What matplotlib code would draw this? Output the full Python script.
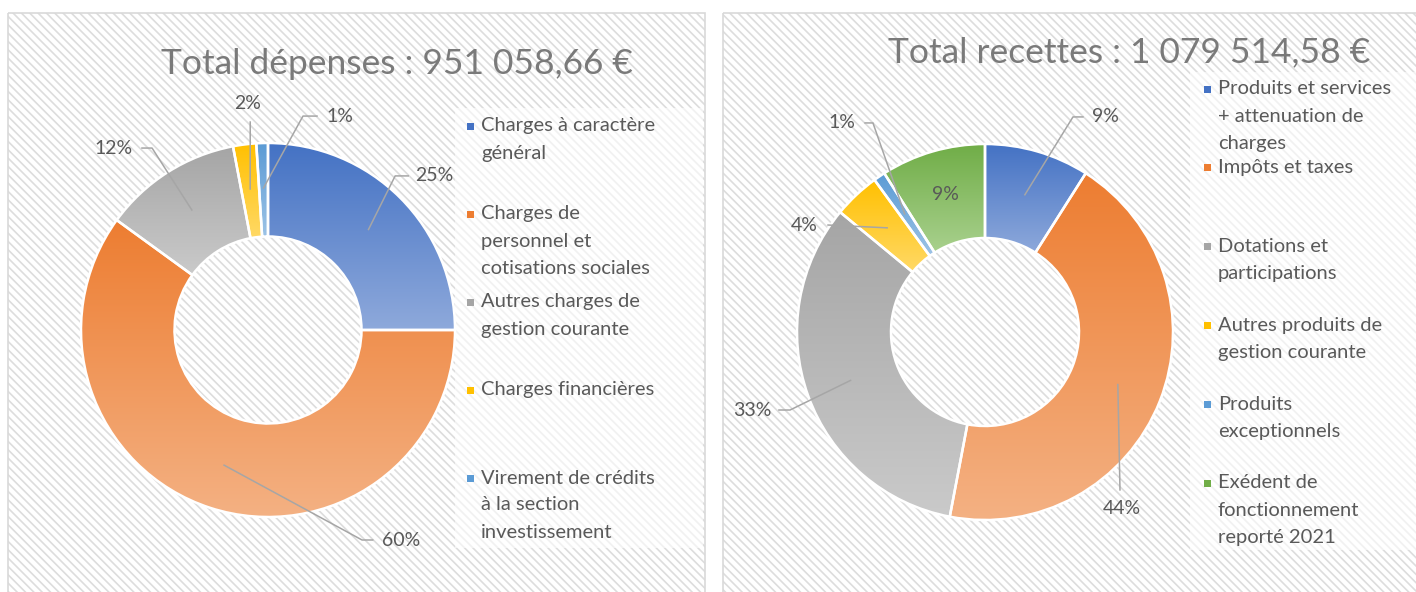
import numpy as np
import matplotlib
matplotlib.use('Agg')
import matplotlib.pyplot as plt
from matplotlib.patches import Rectangle
from matplotlib.colors import LinearSegmentedColormap

plt.rcParams['font.family'] = ['Lato', 'DejaVu Sans']
plt.rcParams['hatch.linewidth'] = 1.2

# ---- data ----
dep_title = 'Total dépenses : 951 058,66 €'
dep_labels = ['Charges à caractère\ngénéral',
              'Charges de\npersonnel et\ncotisations sociales',
              'Autres charges de\ngestion courante',
              'Charges financières',
              'Virement de crédits\nà la section\ninvestissement']
dep_values = [25, 60, 12, 2, 1]

rec_title = 'Total recettes : 1 079 514,58 €'
rec_labels = ['Produits et services\n+ attenuation de\ncharges',
              'Impôts et taxes',
              'Dotations et\nparticipations',
              'Autres produits de\ngestion courante',
              'Produits\nexceptionnels',
              'Exédent de\nfonctionnement\nreporté 2021']
rec_values = [9, 44, 33, 4, 1, 9]

# (dark top, light bottom) gradient colours
dep_colors = [('#4472C4', '#8EA9DB'), ('#ED7D31', '#F4B183'), ('#A5A5A5', '#CACACA'),
              ('#FFC000', '#FFD966'), ('#5B9BD5', '#9DC3E6')]
rec_colors = [('#4472C4', '#8EA9DB'), ('#ED7D31', '#F4B183'), ('#A5A5A5', '#CACACA'),
              ('#FFC000', '#FFD966'), ('#5B9BD5', '#9DC3E6'), ('#70AD47', '#A9D18E')]

W, H = 1416, 592
TXT = '#595959'
LINE = '#A6A6A6'

fig = plt.figure(figsize=(W / 100, H / 100), dpi=100)
bg = fig.add_axes([0, 0, 1, 1], zorder=0)
bg.set_xlim(0, W)
bg.set_ylim(H, 0)
bg.axis('off')


def panel(x0, x1):
    bg.add_patch(Rectangle((x0, 13), x1 - x0, 600, facecolor='white',
                           edgecolor='#DDDDDD', hatch='\\\\\\\\', lw=0))
    bg.add_patch(Rectangle((x0, 13), x1 - x0, 600, facecolor='none',
                           edgecolor='#D9D9D9', lw=1.2))


def legend(labels, colors, x_mark, y0, step, box):
    bx, by, bw, bh = box
    bg.add_patch(Rectangle((bx, by), bw, bh, facecolor='white', alpha=0.6, lw=0))
    for i, (lab, col) in enumerate(zip(labels, colors)):
        y = y0 + i * step
        bg.add_patch(Rectangle((x_mark - 3.5, y - 3.5), 7, 7, facecolor=col[0], lw=0))
        for k, line in enumerate(lab.split('\n')):
            bg.text(x_mark + 11, y + k * 27, line, fontsize=14.5, color=TXT,
                    ha='left', va='center')


def donut(values, colors, cx, cy, r, leaders):
    ax = fig.add_axes([(cx - r) / W, (H - cy - r) / H, 2 * r / W, 2 * r / H], zorder=1)
    ax.patch.set_alpha(0)
    wedges, _ = ax.pie(values, startangle=90, counterclock=False, radius=1,
                       wedgeprops=dict(width=0.5, edgecolor='white', linewidth=1.8))
    grad = np.linspace(0, 1, 256).reshape(-1, 1)
    for w, (c0, c1) in zip(wedges, colors):
        bb = w.get_path().get_extents()
        cmap = LinearSegmentedColormap.from_list('g', [c0, c1])
        im = ax.imshow(grad, cmap=cmap, extent=[bb.x0, bb.x1, bb.y0, bb.y1],
                       origin='upper', aspect='auto', zorder=1)
        im.set_clip_path(w)
        w.set_facecolor('none')
        w.set_zorder(2)
    for w, v, (txy, ha, pts) in zip(wedges, values, leaders):
        th = np.deg2rad((w.theta1 + w.theta2) / 2)
        anchor = (0.76 * np.cos(th), 0.76 * np.sin(th))
        if pts:
            xs = [anchor[0]] + [p[0] for p in pts]
            ys = [anchor[1]] + [p[1] for p in pts]
            ax.plot(xs, ys, color=LINE, lw=1.1, zorder=3, clip_on=False)
        else:
            txy = anchor
        ax.text(txy[0], txy[1], f'{v}%', fontsize=14, color=TXT, ha=ha,
                va='center', zorder=4, clip_on=False)
    ax.set_xlim(-1, 1)
    ax.set_ylim(-1, 1)
    ax.set_aspect('equal')
    ax.axis('off')
    return ax


panel(8, 705)
panel(723, W + 5)

bg.text(397, 64, dep_title, fontsize=25.5, color='#7A7A7A', ha='center', va='center')
bg.text(1129, 52, rec_title, fontsize=25.5, color='#7A7A7A', ha='center', va='center')

legend(dep_labels, dep_colors, 470, 126, 88, (455, 108, 248, 440))
legend(rec_labels, rec_colors, 1207, 89, 78.8, (1190, 72, 226, 478))

dep_leaders = [
    ((0.786, 0.824), 'left', [(0.68, 0.824), (0.75, 0.824)]),
    ((0.61, -1.123), 'left', [(0.503, -1.123), (0.56, -1.123)]),
    ((-0.722, 0.973), 'right', [(-0.62, 0.973), (-0.674, 0.973)]),
    ((-0.107, 1.209), 'center', [(-0.095, 1.112)]),
    ((0.31, 1.144), 'left', [(0.187, 1.144), (0.262, 1.144)]),
]
rec_leaders = [
    ((0.569, 1.144), 'left', [(0.468, 1.144), (0.521, 1.144)]),
    ((0.729, -0.941), 'center', [(0.718, -0.84)]),
    ((-1.133, -0.415), 'right', [(-1.037, -0.415), (-1.096, -0.415)]),
    ((-0.888, 0.569), 'right', [(-0.835, 0.569)]),
    ((-0.691, 1.112), 'right', [(-0.596, 1.112), (-0.638, 1.112)]),
    ((0, 0), 'center', []),
]

donut(dep_values, dep_colors, 268, 330, 187, dep_leaders)
donut(rec_values, rec_colors, 985, 332, 188, rec_leaders)

fig.savefig('out.png', dpi=100)
